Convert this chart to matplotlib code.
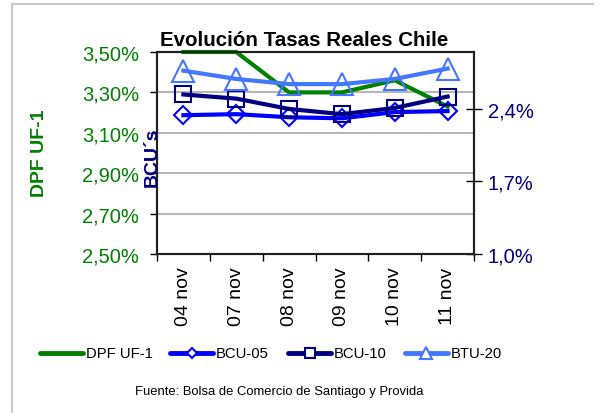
import matplotlib
matplotlib.use("Agg")
import matplotlib.pyplot as plt
from matplotlib.lines import Line2D
from matplotlib.ticker import FixedLocator, FuncFormatter

plt.rcParams['font.family'] = ['Liberation Sans', 'DejaVu Sans']

dates = ['04 nov', '07 nov', '08 nov', '09 nov', '10 nov', '11 nov']
dpf_uf1 = [3.50, 3.50, 3.30, 3.30, 3.36, 3.23]
bcu05 = [2.34, 2.35, 2.32, 2.31, 2.37, 2.38]
bcu10 = [2.54, 2.50, 2.40, 2.35, 2.41, 2.52]
btu20 = [2.77, 2.69, 2.64, 2.64, 2.69, 2.79]
left_ticks = [2.5, 2.7, 2.9, 3.1, 3.3, 3.5]
right_ticks = [1.0, 1.7, 2.4]

GREEN = '#008000'
BLUE = '#0000FF'
NAVY = '#000080'
LBLUE = '#4477FF'

W, H = 603, 414
fig = plt.figure(figsize=(W / 100, H / 100), dpi=100)

def fx(px):
    return px / W

def fy(py):
    return 1 - py / H

# outer frame (top & left)
fig.add_artist(Line2D([fx(12), fx(593)], [fy(5), fy(5)], color='#C8C8C8', lw=1.5))
fig.add_artist(Line2D([fx(12), fx(12)], [fy(5), fy(414)], color='#C8C8C8', lw=1.5))

l, r, t, b = 157, 474, 53, 255
ax = fig.add_axes([fx(l), fy(b), fx(r) - fx(l), fy(t) - fy(b)])
ax2 = ax.twinx()

ax.plot(dates, dpf_uf1, color=GREEN, lw=3, solid_joinstyle='miter', clip_on=False, zorder=3)
ax.set_xlim(-0.5, len(dates) - 0.5)
ax.set_ylim(2.5, 3.5)
ax.yaxis.set_major_locator(FixedLocator(left_ticks))
ax.yaxis.set_major_formatter(FuncFormatter(lambda v, p: f"{v:.2f}%".replace('.', ',')))
ax.grid(axis='y', color='#A8A8A8', lw=1.2)
ax.set_axisbelow(True)
ax.tick_params(axis='y', colors='black', labelcolor=GREEN, labelsize=14.5, length=5, width=1, pad=8, direction='out')
ax.tick_params(axis='x', which='major', length=0, labelsize=14, pad=9, labelrotation=90)
ax.set_xticks(range(len(dates)))
ax.set_xticks([i - 0.5 for i in range(len(dates) + 1)], minor=True)
ax.tick_params(axis='x', which='minor', length=5, width=1, direction='out')

ax2.plot(dates, bcu05, color=BLUE, lw=3, marker='D', ms=9, mfc='none', mec=BLUE, mew=1.5, zorder=3)
ax2.plot(dates, bcu10, color=NAVY, lw=3, marker='s', ms=11, mfc='none', mec=NAVY, mew=1.5, zorder=4)
ax2.plot(dates, btu20, color=LBLUE, lw=3, marker='^', ms=16, mfc='none', mec=LBLUE, mew=1.5, zorder=5)
ax2.set_ylim(1.0, 2.95)
ax2.yaxis.set_major_locator(FixedLocator(right_ticks))
ax2.yaxis.set_major_formatter(FuncFormatter(lambda v, p: f"{v:.1f}%".replace('.', ',')))
ax2.tick_params(axis='y', colors='black', labelcolor=NAVY, labelsize=14.5, length=12, width=1, pad=4, direction='inout')

for a in (ax, ax2):
    for s in a.spines.values():
        s.set_color('#202020')
        s.set_linewidth(1.5)

fig.text(fx(304), fy(40), 'Evolución Tasas Reales Chile', ha='center', va='center',
         fontsize=14.8, fontweight='bold')
fig.text(fx(40), fy(153), 'DPF UF-1', rotation=90, ha='center', va='center',
         fontsize=14, fontweight='bold', color=GREEN)
fig.text(fx(152), fy(157), 'BCU´s', rotation=90, ha='center', va='center',
         fontsize=14, fontweight='bold', color=NAVY)

# legend
leg = [
    ('DPF UF-1', GREEN, None, 0, 40),
    ('BCU-05', BLUE, 'D', 5, 170),
    ('BCU-10', NAVY, 's', 7, 288),
    ('BTU-20', LBLUE, '^', 8, 405),
]
ly = 354
for name, c, m, ms, x0 in leg:
    fig.add_artist(Line2D([fx(x0), fx(x0 + 43)], [fy(ly), fy(ly)], color=c, lw=3.5,
                          solid_capstyle='round'))
    if m:
        fig.add_artist(Line2D([fx(x0 + 21.5)], [fy(ly)], marker=m, ms=ms, mfc='white',
                              mec=c, mew=1.5, color=c))
    fig.text(fx(x0 + 46), fy(ly), name, ha='left', va='center', fontsize=10.7)

fig.text(fx(279), fy(392), 'Fuente: Bolsa de Comercio de Santiago y Provida',
         ha='center', va='center', fontsize=9.4)

fig.savefig('out.png', dpi=100)
